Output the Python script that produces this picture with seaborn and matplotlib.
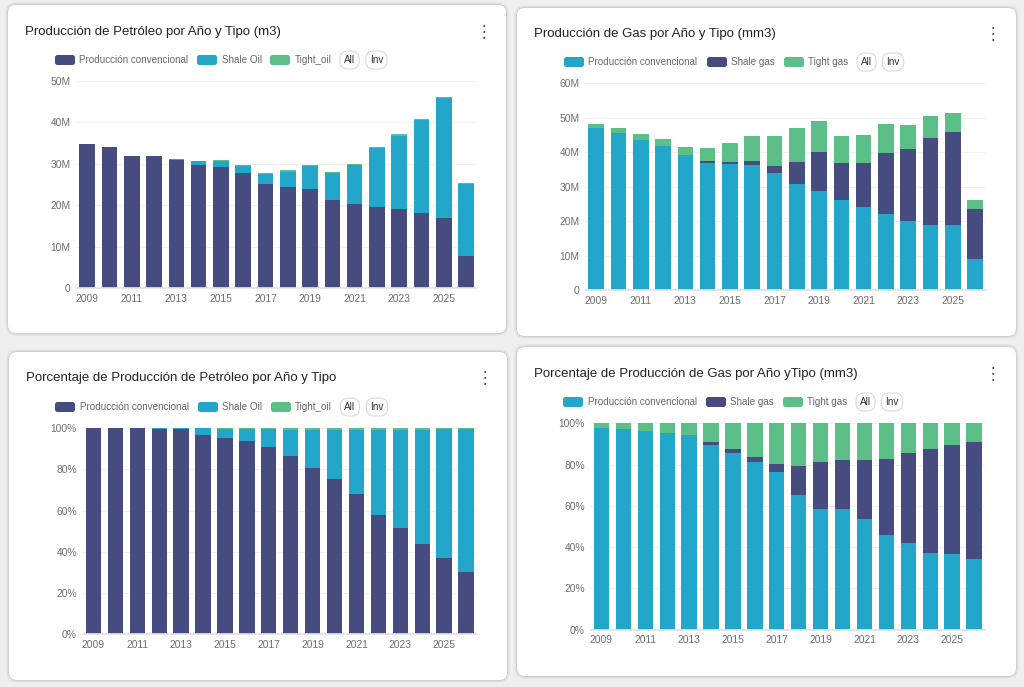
import numpy as np
import seaborn as sns
import matplotlib.pyplot as plt
from matplotlib.patches import FancyBboxPatch

years = list(range(2009, 2027))

# oil, millions of m3
oil_conv = [34.8, 34.0, 31.9, 31.8, 31.0, 29.7, 29.3, 27.7, 25.2, 24.5,
            24.0, 21.2, 20.4, 19.6, 19.1, 18.0, 17.0, 7.7]
oil_shale = [0.0, 0.0, 0.0, 0.1, 0.2, 1.0, 1.4, 1.7, 2.3, 3.6,
             5.4, 6.6, 9.2, 14.1, 17.7, 22.6, 28.9, 17.5]
oil_tight = [0.0, 0.0, 0.0, 0.0, 0.0, 0.05, 0.1, 0.2, 0.2, 0.3,
             0.3, 0.3, 0.3, 0.3, 0.3, 0.3, 0.3, 0.1]

# gas, millions of m3 (mm3)
gas_conv = [47.1, 45.7, 43.7, 41.9, 39.2, 37.0, 36.5, 36.4, 34.0, 30.7,
            28.8, 26.2, 24.1, 22.0, 20.1, 18.8, 18.8, 9.0]
gas_shale = [0.0, 0.0, 0.0, 0.0, 0.0, 0.6, 0.8, 1.0, 1.9, 6.5,
             11.2, 10.7, 12.9, 17.9, 20.8, 25.3, 27.2, 14.7]
gas_tight = [1.1, 1.3, 1.6, 2.1, 2.3, 3.7, 5.3, 7.4, 8.7, 9.7,
             9.1, 7.9, 8.0, 8.3, 7.0, 6.4, 5.3, 2.4]

NAVY = "#464c80"
CYAN = "#22a7cb"
GREEN = "#5bbf87"

W, H = 1024, 687

sns.set_theme(style="white")
plt.rcParams['font.family'] = ['Liberation Sans', 'DejaVu Sans']

fig = plt.figure(figsize=(W / 100, H / 100), dpi=100)
fig.patch.set_facecolor("#efefef")
inch = fig.dpi_scale_trans


def card(x0, y0, x1, y1):
    # soft shadow then white card, in pixel units -> inches
    for off, a in [(2.5, 0.05), (1.2, 0.08)]:
        fig.patches.append(FancyBboxPatch(
            ((x0 - off) / 100, (H - y1 - off) / 100), (x1 - x0 + 2 * off) / 100, (y1 - y0 + 2 * off) / 100,
            boxstyle="round,pad=0,rounding_size=0.1", transform=inch,
            fc="black", ec="none", alpha=a, zorder=0))
    fig.patches.append(FancyBboxPatch(
        (x0 / 100, (H - y1) / 100), (x1 - x0) / 100, (y1 - y0) / 100,
        boxstyle="round,pad=0,rounding_size=0.08", transform=inch,
        fc="white", ec="none", zorder=1))


def legend(y, patch_x, text_x, labels, colors, pills):
    for px, tx, lab, c in zip(patch_x, text_x, labels, colors):
        fig.patches.append(FancyBboxPatch(
            (px / 100, (H - y - 5) / 100), 0.2, 0.1,
            boxstyle="round,pad=0,rounding_size=0.025", transform=inch,
            fc=c, ec="none", zorder=3))
        fig.text(tx / W, 1 - y / H, lab, fontsize=7.1, color="#666666", va="center", ha="left", zorder=3)
    for cx, lab in pills:
        fig.text(cx / W, 1 - y / H, lab, fontsize=7.2, color="#333333", va="center", ha="center", zorder=3,
                 bbox=dict(boxstyle="round,pad=0.4,rounding_size=0.8", fc="white", ec="#d9d9d9", lw=0.8))


def panel(box, layers, ymax, ystep, fmt):
    x0, y0, x1, y1 = box
    ax = fig.add_axes([x0 / W, 1 - y1 / H, (x1 - x0) / W, (y1 - y0) / H], zorder=2)
    ax.set_facecolor("none")
    labels = [str(y) for y in years]
    cum = np.cumsum(np.array([v for v, _ in layers]), axis=0)
    # tallest stack first so lower series sit on top of it
    for i in range(len(layers) - 1, -1, -1):
        sns.barplot(x=labels, y=cum[i], color=layers[i][1], saturation=1, width=0.7,
                    edgecolor="none", linewidth=0, ax=ax)
    ax.set_xlim(-0.5, len(years) - 0.5)
    ax.set_ylim(0, ymax)
    ax.set_yticks(np.arange(0, ymax + ystep / 2, ystep))
    ax.set_yticklabels([fmt(v) for v in ax.get_yticks()])
    ax.set_xticks(range(0, len(years), 2))
    ax.set_xticklabels(labels[::2])
    ax.yaxis.grid(True, color="#f0f0f0", lw=0.8)
    ax.set_axisbelow(True)
    for s in ["top", "right", "left"]:
        ax.spines[s].set_visible(False)
    ax.spines["bottom"].set_color("#e3e3e3")
    ax.tick_params(axis="both", length=0, labelsize=7.4, labelcolor="#6f6f6f", pad=4)
    ax.set_xlabel("")
    ax.set_ylabel("")
    return ax


def title(x, y, text):
    fig.text(x / W, 1 - y / H, text, fontsize=9.5, color="#222222", va="center", ha="left", zorder=3)


def kebab(x, y):
    fig.text(x / W, 1 - y / H, "\u22ee", fontsize=12, color="#555555", va="center", ha="center", zorder=3,
             family=["DejaVu Sans"])


mfmt = lambda v: "0" if v == 0 else f"{v:.0f}M"
pfmt = lambda v: f"{v:.0f}%"

oil_total = np.array(oil_conv) + np.array(oil_shale) + np.array(oil_tight)
gas_total = np.array(gas_conv) + np.array(gas_shale) + np.array(gas_tight)

oil_labels = ["Producción convencional", "Shale Oil", "Tight_oil"]
gas_labels = ["Producción convencional", "Shale gas", "Tight gas"]

# panel 1: oil volume
card(8, 5, 506, 333)
title(25, 32, "Producción de Petróleo por Año y Tipo (m3)")
kebab(484, 32)
legend(60, [55, 197, 270], [79, 222, 295], oil_labels, [NAVY, CYAN, GREEN], [(349.5, "All"), (376.5, "Inv")])
panel((76, 81, 477.3, 288), [(oil_conv, NAVY), (oil_shale, CYAN), (oil_tight, GREEN)], 50, 10, mfmt)

# panel 2: gas volume
card(517, 8, 1016, 336)
title(534, 34, "Producción de Gas por Año y Tipo (mm3)")
kebab(993, 34)
legend(62, [564, 707, 784], [588, 731, 808], gas_labels, [CYAN, NAVY, GREEN], [(866.5, "All"), (893, "Inv")])
panel((585, 83.3, 986.3, 290.3), [(gas_conv, CYAN), (gas_shale, NAVY), (gas_tight, GREEN)], 60, 10, mfmt)

# panel 3: oil share
card(9, 352, 507, 680)
title(26, 378, "Porcentaje de Producción de Petróleo por Año y Tipo")
kebab(485, 378)
legend(407, [55, 198, 271], [80, 222, 295], oil_labels, [NAVY, CYAN, GREEN], [(350, "All"), (377, "Inv")])
panel((82.5, 428, 477, 634.3),
      [(np.array(oil_conv) / oil_total * 100, NAVY),
       (np.array(oil_shale) / oil_total * 100, CYAN),
       (np.array(oil_tight) / oil_total * 100, GREEN)], 100, 20, pfmt)

# panel 4: gas share
card(517, 347, 1016, 676)
title(534, 374, "Porcentaje de Producción de Gas por Año yTipo (mm3)")
kebab(993, 374)
legend(402, [563, 706, 783], [588, 730, 807], gas_labels, [CYAN, NAVY, GREEN], [(865.5, "All"), (892, "Inv")])
panel((590.5, 423.3, 985, 629.7),
      [(np.array(gas_conv) / gas_total * 100, CYAN),
       (np.array(gas_shale) / gas_total * 100, NAVY),
       (np.array(gas_tight) / gas_total * 100, GREEN)], 100, 20, pfmt)

fig.savefig("out.png", dpi=100, facecolor=fig.get_facecolor())
